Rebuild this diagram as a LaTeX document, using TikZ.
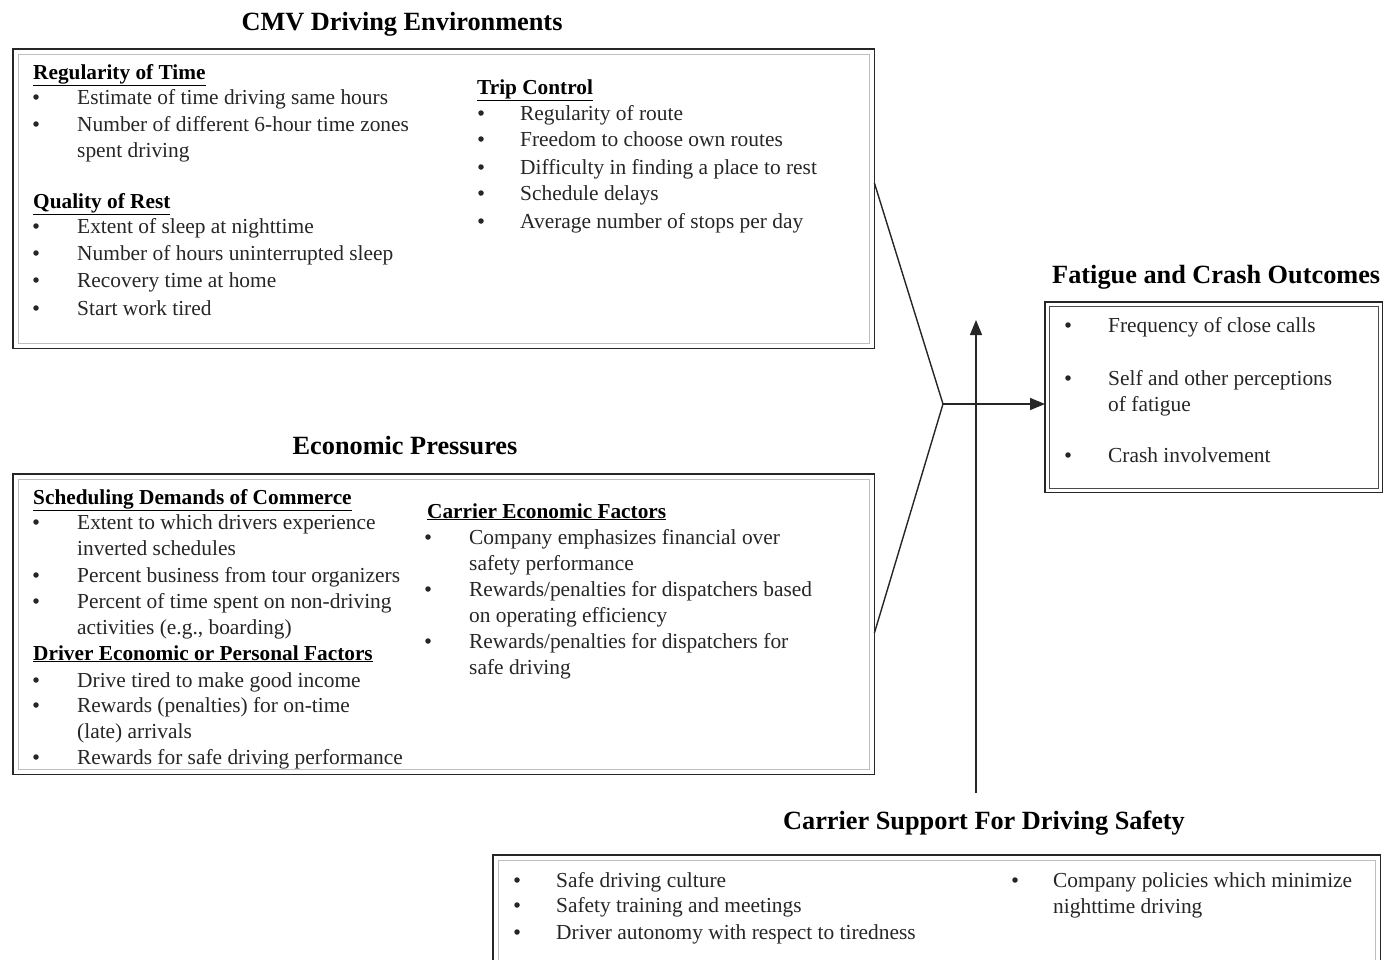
\documentclass[tikz,border=0pt]{standalone}
\usepackage{fontspec}
\setmainfont{Liberation Serif}
\usetikzlibrary{arrows.meta}
\newcommand\twol[2]{\vtop{\hbox{#1}\hbox{#2}}}
\tikzset{
  boxline/.style={draw=black!85, line width=1.6pt},
  boxinner/.style={draw=black!25, line width=0.6pt},
  frame/.style={draw=none, inner sep=0pt, anchor=north west},
  ttl/.style={font={\fontsize{26.3}{30}\selectfont\bfseries}, inner sep=0pt, anchor=base},
  hdr/.style={font={\fontsize{21.3}{26}\selectfont\bfseries}, inner sep=0pt, anchor=base west},
  itm/.style={font={\fontsize{21.4}{26}\selectfont}, inner sep=0pt, anchor=base west, text=black!85},
  bul/.style={circle, fill=black!85, inner sep=0pt, minimum size=5.5pt},
  conn/.style={draw=black!85, line width=1.4pt},
  arr/.style={conn, -{Triangle[length=15pt,width=12pt]}}
}
\newcommand\bitem[5][41]{%
  \node[itm] (#2) at (#3,#4) {#5};
  \node[bul] (#2b) at ({#3-#1},{#4-7}) {};
}
\begin{document}
\begin{tikzpicture}[x=1pt,y=-1pt]
\useasboundingbox[fill=white] (0,0) rectangle (1386,959);

% ---------- CMV Driving Environments ----------
\node[ttl] (t1) at (402,30) {CMV Driving Environments};
\node[frame, minimum width=861pt, minimum height=299pt] (env) at (13,49) {};
\draw[boxline] (env.north west) rectangle (env.south east);
\draw[boxinner] ([shift={(5pt,-5pt)}]env.north west) rectangle ([shift={(-5pt,5pt)}]env.south east);

\node[hdr] (h11) at (33,79) {\underline{Regularity of Time}};
\bitem{a1}{77}{104}{Estimate of time driving same hours}
\bitem{a2}{77}{131}{\twol{Number of different 6-hour time zones}{spent driving}}
\node[hdr] (h12) at (33,208) {\underline{Quality of Rest}};
\bitem{a3}{77}{233}{Extent of sleep at nighttime}
\bitem{a4}{77}{260}{Number of hours uninterrupted sleep}
\bitem{a5}{77}{287}{Recovery time at home}
\bitem{a6}{77}{315}{Start work tired}

\node[hdr] (h13) at (477,94) {\underline{Trip Control}};
\bitem[39]{b1}{520}{120}{Regularity of route}
\bitem[39]{b2}{520}{146}{Freedom to choose own routes}
\bitem[39]{b3}{520}{174}{Difficulty in finding a place to rest}
\bitem[39]{b4}{520}{200}{Schedule delays}
\bitem[39]{b5}{520}{228}{Average number of stops per day}

% ---------- Economic Pressures ----------
\node[ttl] (t2) at (405,454) {Economic Pressures};
\node[frame, minimum width=861pt, minimum height=300pt] (eco) at (13,474) {};
\draw[boxline] (eco.north west) rectangle (eco.south east);
\draw[boxinner] ([shift={(5pt,-5pt)}]eco.north west) rectangle ([shift={(-5pt,5pt)}]eco.south east);

\node[hdr] (h21) at (33,504) {\underline{Scheduling Demands of Commerce}};
\bitem{c1}{77}{529}{\twol{Extent to which drivers experience}{inverted schedules}}
\bitem{c2}{77}{582}{Percent business from tour organizers}
\bitem{c3}{77}{608}{\twol{Percent of time spent on non-driving}{activities (e.g., boarding)}}
\node[hdr] (h22) at (33,660) {\underline{Driver Economic or Personal Factors}};
\bitem{c4}{77}{687}{Drive tired to make good income}
\bitem{c5}{77}{712}{\twol{Rewards (penalties) for on-time}{(late) arrivals}}
\bitem{c6}{77}{764}{Rewards for safe driving performance}

\node[hdr] (h23) at (427,518) {\underline{Carrier Economic Factors}};
\bitem{d1}{469}{544}{\twol{Company emphasizes financial over}{safety performance}}
\bitem{d2}{469}{596}{\twol{Rewards/penalties for dispatchers based}{on operating efficiency}}
\bitem{d3}{469}{648}{\twol{Rewards/penalties for dispatchers for}{safe driving}}

% ---------- Fatigue and Crash Outcomes ----------
\node[ttl, anchor=base west] (t3) at (1052,283) {Fatigue and Crash Outcomes};
\node[frame, minimum width=337pt, minimum height=190pt] (fat) at (1045,302) {};
\draw[boxline, line width=1.4pt] (fat.north west) rectangle (fat.south east);
\draw[draw=black!70, line width=0.8pt] ([shift={(4pt,-4pt)}]fat.north west) rectangle ([shift={(-4pt,4pt)}]fat.south east);
\bitem[40]{f1}{1108}{332}{Frequency of close calls}
\bitem[40]{f2}{1108}{385}{\twol{Self and other perceptions}{of fatigue}}
\bitem[40]{f3}{1108}{462}{Crash involvement}

% ---------- Carrier Support For Driving Safety ----------
\node[ttl] (t4) at (984,829) {Carrier Support For Driving Safety};
\node[frame, minimum width=887pt, minimum height=110pt] (sup) at (493,855) {};
\draw[boxline] (sup.south west) -- (sup.north west) -- (sup.north east) -- (sup.south east);
\draw[boxinner] ([shift={(5pt,0pt)}]sup.south west) -- ([shift={(5pt,-5pt)}]sup.north west) -- ([shift={(-5pt,-5pt)}]sup.north east) -- ([shift={(-5pt,0pt)}]sup.south east);
\bitem[39]{s1}{556}{887}{Safe driving culture}
\bitem[39]{s2}{556}{912}{Safety training and meetings}
\bitem[39]{s3}{556}{939}{Driver autonomy with respect to tiredness}
\bitem[38]{s4}{1053}{887}{\twol{Company policies which minimize}{nighttime driving}}

% ---------- connectors ----------
\coordinate (e1) at (env.east |- 0,183);
\coordinate (e2) at (eco.east |- 0,633);
\coordinate (apex) at (943,404);
\coordinate (vs) at (976,793);
\coordinate (vt) at (976,320);
\draw[conn] (e1) -- (apex) -- (e2);
\draw[arr] (apex) -- (apex -| fat.west);
\draw[arr] (vs) -- (vt);
\end{tikzpicture}
\end{document}
